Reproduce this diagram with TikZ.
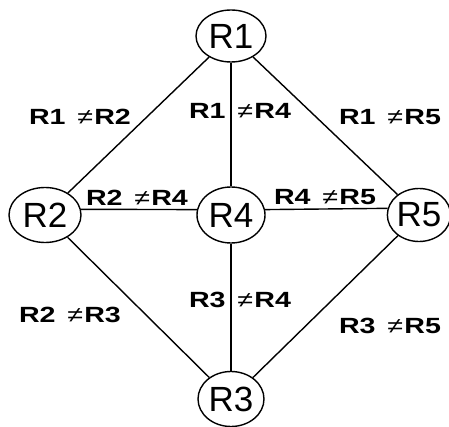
\documentclass[tikz,border=0pt]{standalone}
\usepackage{fontspec}
\setmainfont{Liberation Sans}
\usetikzlibrary{shapes.geometric}
\tikzset{
  router/.style={ellipse, draw, line width=1.4pt, inner sep=0pt,
    font=\fontsize{35}{35}\selectfont},
  link/.style={line width=1.4pt},
  lab/.style={inner sep=0pt, font=\fontsize{22}{22}\selectfont\bfseries}
}
\newcommand{\neqlab}[2]{\scalebox{1.3}[1]{#1\hspace{9pt}{\mdseries≠}\hspace{1pt}#2}}
\begin{document}
\begin{tikzpicture}[x=1pt, y=-1pt]
  \useasboundingbox (0,0) rectangle (449,427);
  % routers
  \node[router, minimum width=70pt, minimum height=52pt] (R1) at (231,36) {R1};
  \node[router, minimum width=72pt, minimum height=55pt] (R2) at (45,215) {R2};
  \node[router, minimum width=68pt, minimum height=56pt] (R4) at (231,215) {R4};
  \node[router, minimum width=58pt, minimum height=53pt] (R5) at (419,215) {R5};
  \node[router, minimum width=66pt, minimum height=55pt] (R3) at (231,399) {R3};
  % links
  \draw[link] (R1) -- (R2);
  \draw[link] (R1) -- (R4);
  \draw[link] (R1) -- (R5);
  \draw[link] (R2.9) -- (R4.171);
  \draw[link] (R4.9) -- (R5.168);
  \draw[link] (R2) -- (R3);
  \draw[link] (R4) -- (R3);
  \draw[link] (R5) -- (R3);
  % constraint labels
  \node[lab] (l12) at (80,117) {\neqlab{R1}{R2}};
  \node[lab] (l14) at (240,111) {\neqlab{R1}{R4}};
  \node[lab] (l15) at (390,117) {\neqlab{R1}{R5}};
  \node[lab] (l24) at (137,198) {\neqlab{R2}{R4}};
  \node[lab] (l45) at (325,197) {\neqlab{R4}{R5}};
  \node[lab] (l23) at (70,315) {\neqlab{R2}{R3}};
  \node[lab] (l34) at (240,300) {\neqlab{R3}{R4}};
  \node[lab] (l35) at (390,326) {\neqlab{R3}{R5}};
\end{tikzpicture}
\end{document}
